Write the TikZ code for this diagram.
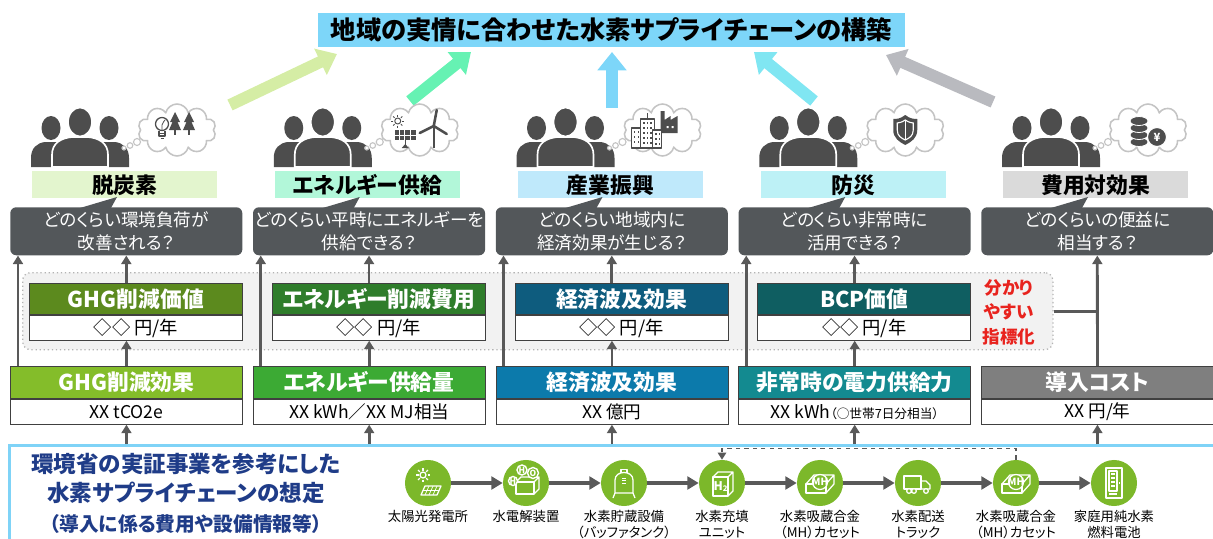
\documentclass[tikz,border=0pt]{standalone}
\usepackage{fontspec}
\setmainfont{Noto Sans CJK JP}[RawFeature=+palt]
\usetikzlibrary{arrows.meta,calc,positioning,shapes.symbols}

\definecolor{titleblue}{HTML}{7DD6F9}
\definecolor{arrA}{HTML}{D5EDA5}
\definecolor{arrB}{HTML}{66F2B3}
\definecolor{arrC}{HTML}{7DD6F9}
\definecolor{arrD}{HTML}{80E6F2}
\definecolor{arrE}{HTML}{B9BABF}
\definecolor{bandA}{HTML}{E3F5CE}
\definecolor{bandB}{HTML}{B2F7D9}
\definecolor{bandC}{HTML}{BFE9FB}
\definecolor{bandD}{HTML}{BDF1F6}
\definecolor{bandE}{HTML}{DADADA}
\definecolor{folkgray}{HTML}{4D4D4D}
\definecolor{puffgray}{HTML}{C4C4C4}
\definecolor{qgray}{HTML}{53575A}
\definecolor{valA}{HTML}{5C8A1E}
\definecolor{valB}{HTML}{2F7D2B}
\definecolor{valC}{HTML}{0E5C7E}
\definecolor{valD}{HTML}{0F5E61}
\definecolor{effA}{HTML}{84BD2A}
\definecolor{effB}{HTML}{3CAA34}
\definecolor{effC}{HTML}{0C7AAB}
\definecolor{effD}{HTML}{138A90}
\definecolor{effE}{HTML}{7F7F7F}
\definecolor{boxline}{HTML}{404040}
\definecolor{linkgray}{HTML}{595959}
\definecolor{dotfill}{HTML}{F2F2F2}
\definecolor{dotgray}{HTML}{B3B3B3}
\definecolor{alertred}{HTML}{E8231E}
\definecolor{planblue}{HTML}{1F3C88}
\definecolor{frameblue}{HTML}{7FD3F7}
\definecolor{stationgreen}{HTML}{7CB82A}

\tikzset{
  folk/.style={fill=folkgray},
  ink/.style={draw=folkgray, line width=0.9pt, line join=round},
  chalk/.style={draw=white, line width=0.9pt, line join=round},
  puff/.style={draw=puffgray, line width=0.8pt, fill=white},
  % three heads and a thought cloud
  crowd/.pic={
    \fill[folk] (-29,8) ellipse (9.5 and 12);
    \fill[folk] (29,8) ellipse (9.5 and 12);
    \fill[folk] (-49,47) -- (-49,38) .. controls (-49,28) and (-43,23) .. (-35,22) -- (-23,22) .. controls (-15,23) and (-11,28) .. (-11,38) -- (-11,47) -- cycle;
    \fill[folk] (49,47) -- (49,38) .. controls (49,28) and (43,23) .. (35,22) -- (23,22) .. controls (15,23) and (11,28) .. (11,38) -- (11,47) -- cycle;
    \filldraw[folk, draw=white, line width=1.2pt] (-28,47) -- (-28,35) .. controls (-28,23) and (-19,18) .. (-8,17) -- (8,17) .. controls (19,18) and (28,23) .. (28,35) -- (28,47) -- cycle;
    \filldraw[folk, draw=white, line width=1.2pt] (0,2) ellipse (12 and 14.5);
    \draw[puff] (44,28) circle (2) (50,25.5) circle (2.8) (57,22) circle (3.5);
    \node[cloud, cloud puffs=10, aspect=1.55, draw=puffgray, line width=1.1pt, fill=white,
      minimum width=1.95cm, minimum height=1.3cm, inner sep=0pt] (-cloud) at (97,10) {};
  },
  bulbtrees/.pic={
    \draw[ink] (-15,-6) circle (6.5);
    \draw[ink] (-18,1) -- (-18,6) -- (-12,6) -- (-12,1);
    \draw[ink] (-18,3.5) -- (-12,3.5);
    \draw[ink] (-16.5,8.5) -- (-13.5,8.5);
    \draw[ink, line width=0.6pt] (-15,0) -- (-15,-5) .. controls (-13,-9) .. (-12,-10);
    \fill[folkgray] (-2,-18) -- (-7,-8) -- (-4.5,-8) -- (-8,0) -- (4,0) -- (0.5,-8) -- (3,-8) -- cycle;
    \fill[folkgray] (-3,0) rectangle (-1,5);
    \fill[folkgray] (12,-18) -- (7,-8) -- (9.5,-8) -- (6,0) -- (18,0) -- (14.5,-8) -- (17,-8) -- cycle;
    \fill[folkgray] (11,0) rectangle (13,5);
  },
  solarwind/.pic={
    \draw[ink, line width=0.7pt] (-22,-9) circle (3);
    \foreach \a in {0,45,...,315}
      \draw[ink, line width=0.7pt] (-22,-9) ++(\a:4.5) -- ++(\a:2);
    \fill[folkgray] (-25,0) rectangle (-4,10);
    \draw[white, line width=0.4pt] (-20,0) -- (-20,10) (-15,0) -- (-15,10) (-9.5,0) -- (-9.5,10) (-25,5) -- (-4,5);
    \draw[ink] (-14.5,10) -- (-14.5,15);
    \fill[folkgray] (-18,18) -- (-14.5,14) -- (-11,18) -- cycle;
    \draw[ink, line width=1.2pt] (14,-4) -- (14,18);
    \draw[folkgray, line width=1.8pt, line cap=round] (14,-4) -- (17,-20) (14,-4) -- (0,3) (14,-4) -- (27,4);
  },
  cityfactory/.pic={
    \fill[folkgray] (-2,3) -- (-2,-19) -- (2,-19) -- (2,-10) -- (8,-14) -- (8,-10) -- (15,-14) -- (15,3) -- cycle;
    \fill[white] (4,-4) rectangle ++(2.2,2.2) (9,-4) rectangle ++(2.2,2.2);
    \draw[ink, fill=white] (-31,-2) rectangle (-20,18);
    \draw[ink, fill=white] (-22,-11) rectangle (-8,18);
    \draw[ink, fill=white] (-10,0) rectangle (-1,18);
    \draw[ink] (-15,-11) -- (-15,-17);
    \foreach \u in {-19.5,-16,-12.5}
      \foreach \v in {-8,-3,2,7,12}
        \fill[folkgray] (\u,\v) rectangle ++(1.8,2.4);
    \foreach \u in {-29,-25}
      \foreach \v in {1,6,11}
        \fill[folkgray] (\u,\v) rectangle ++(1.8,2.4);
    \foreach \u in {-7.5,-4}
      \foreach \v in {3,8,13}
        \fill[folkgray] (\u,\v) rectangle ++(1.8,2.4);
  },
  shieldmark/.pic={
    \fill[folkgray] (0,-15) .. controls (5,-11) and (9,-11) .. (12,-11) -- (12,0) .. controls (12,8) and (6,12) .. (0,15) .. controls (-6,12) and (-12,8) .. (-12,0) -- (-12,-11) .. controls (-9,-11) and (-5,-11) .. cycle;
    \draw[white, line width=0.8pt] (0,-10) .. controls (3,-8) and (6,-7) .. (8,-7) -- (8,0) .. controls (8,6) and (4,8) .. (0,10) .. controls (-4,8) and (-8,6) .. (-8,0) -- (-8,-7) .. controls (-6,-7) and (-3,-8) .. cycle;
    \draw[white, line width=0.8pt] (0,-10) -- (0,10);
  },
  coinyen/.pic={
    \foreach \v in {12,5,-2,-9}
      \filldraw[fill=folkgray, draw=white, line width=0.6pt] (-9,\v) ellipse (9 and 4.5);
    \filldraw[fill=folkgray, draw=white, line width=0.8pt] (9,7) circle (9.5);
    \node[text=white, font=\fontsize{8}{8}\selectfont\bfseries, inner sep=0pt] (-yen) at (9,7) {¥};
  },
  % icons on the supply chain
  sunpanel/.pic={
    \draw[chalk] (-5,-8) circle (3);
    \foreach \a in {0,45,...,315}
      \draw[chalk] (-5,-8) ++(\a:4.5) -- ++(\a:2.5);
    \draw[chalk] (-3,3) -- (13,3) -- (9,12) -- (-7,12) -- cycle;
    \draw[chalk, line width=0.5pt] (1,3) -- (-3,12) (5,3) -- (1,12) (9,3) -- (5,12) (-5,7.5) -- (11,7.5);
  },
  electro/.pic={
    \draw[chalk] (-10,-1) rectangle (8,11);
    \draw[chalk] (-10,-1) -- (-5,-6) -- (13,-6) -- (8,-1) (13,-6) -- (13,6) -- (8,11);
    \foreach \p/\q/\r/\t [count=\i] in {-4/-13/5/H, 7/-10/5.5/O, -13/-2/4.5/H} {
      \filldraw[fill=stationgreen, draw=white, line width=1pt] (\p,\q) circle (\r);
      \node[text=white, font=\fontsize{6}{6}\selectfont\bfseries, inner sep=0pt] (-atom\i) at (\p,\q) {\t};
    }
  },
  tank/.pic={
    \draw[chalk] (-9,10) -- (-9,-3) .. controls (-9,-13) and (9,-13) .. (9,-3) -- (9,10) -- cycle;
    \draw[chalk] (-9,10) -- (-11,15) (9,10) -- (11,15);
    \draw[chalk] (-3,-10.5) -- (-3,-13.5) -- (3,-13.5) -- (3,-10.5);
    \draw[chalk, line width=0.6pt] (-2,-5) -- (2,-5) (-2,-2.5) -- (2,-2.5) (-2,0) -- (2,0);
  },
  hbox/.pic={
    \draw[chalk] (-9,-6) rectangle (6,13);
    \draw[chalk] (-9,-6) -- (-4,-11) -- (11,-11) -- (6,-6) (11,-11) -- (11,8) -- (6,13);
    \node[text=white, font=\fontsize{8.5}{9}\selectfont\bfseries, inner sep=0pt] (-h2) at (-1.5,3.5) {H{\fontsize{5.5}{5}\selectfont\raisebox{-0.4ex}{2}}};
  },
  mhslab/.pic={
    \draw[chalk] (-14,1) rectangle (6,10);
    \draw[chalk] (-14,1) -- (-6,-8) -- (14,-8) -- (6,1) (14,-8) -- (14,1) -- (6,10);
    \filldraw[fill=stationgreen, draw=white, line width=0.9pt] (0,-1) circle (7.5);
    \node[text=white, font=\fontsize{7}{7}\selectfont\bfseries, inner sep=0pt] (-tag) at (0,-1) {MH};
  },
  truck/.pic={
    \draw[chalk] (-14,-7) rectangle (3,6);
    \draw[chalk] (3,-2) -- (8,-2) -- (12,2) -- (12,6) -- (3,6);
    \filldraw[fill=stationgreen, draw=white, line width=0.9pt] (-9,8) circle (2.3) (-4,8) circle (2.3) (8,8) circle (2.3);
  },
  fuelcell/.pic={
    \draw[chalk] (-8,-15) rectangle (8,15);
    \draw[chalk] (-5,-12) rectangle (3,8);
    \draw[chalk] (-3,-9) -- (1,-9) (-3,-5) -- (1,-5) (-3,-1) -- (1,-1) (-3,3) -- (1,3);
    \draw[chalk] (-5,11) -- (3,11);
    \draw[chalk] (5.5,-1) -- (5.5,1);
  }
}

\begin{document}
\begin{tikzpicture}[
    x=0.025cm, y=-0.025cm,
    bigarrow/.style={line width=8.5pt, -{Triangle[width=20pt,length=13pt]}},
    up/.style={draw=linkgray, line width=2pt, -{Triangle[width=7pt,length=6pt]}},
    flow/.style={draw=linkgray, line width=2.2pt, -{Triangle[width=9pt,length=8pt]}},
    band/.style={minimum width=4.625cm, minimum height=0.675cm, inner sep=0pt, anchor=north west,
      font=\fontsize{15.5}{18}\selectfont\bfseries},
    qbox/.style={fill=qgray, rounded corners=0.15cm, minimum width=5.8cm, minimum height=1.2cm,
      inner sep=0pt, anchor=north west, text=white, align=center, font=\fontsize{12.5}{16}\selectfont},
    vhead/.style={draw=boxline, line width=0.6pt, minimum width=5.325cm, minimum height=0.775cm,
      inner sep=0pt, anchor=north west, text=white, font=\fontsize{15.5}{18}\selectfont\bfseries},
    vrow/.style={draw=boxline, fill=white, line width=0.6pt, minimum width=5.325cm, minimum height=0.625cm,
      inner sep=0pt, font=\fontsize{13}{15}\selectfont},
    ehead/.style={draw=boxline, line width=0.6pt, minimum width=5.8cm, minimum height=0.8cm,
      inner sep=0pt, anchor=north west, text=white, font=\fontsize{15.5}{18}\selectfont\bfseries},
    erow/.style={draw=boxline, fill=white, line width=0.6pt, minimum width=5.8cm, minimum height=0.625cm,
      inner sep=0pt, font=\fontsize{12.5}{15}\selectfont},
    station/.style={circle, fill=stationgreen, minimum size=1.15cm, inner sep=0pt},
    stationlbl/.style={inner sep=0pt, align=center, anchor=north, font=\fontsize{9.5}{11.2}\selectfont}
  ]
  \useasboundingbox (0,0) rectangle (1213,539);

  \node[fill=titleblue, minimum width=14.675cm, minimum height=0.85cm, inner sep=0pt,
    font=\fontsize{18}{20}\selectfont\bfseries] (title) at (611.5,30) {地域の実情に合わせた水素サプライチェーンの構築};

  % arrows up to the title
  \coordinate (fromA) at (230,105);  \coordinate (toA) at (337,54);
  \coordinate (fromB) at (410,101);  \coordinate (toB) at (471,52);
  \coordinate (fromC) at (612,108);  \coordinate (toC) at (612,52);
  \coordinate (fromD) at (814,101);  \coordinate (toD) at (754,52);
  \coordinate (fromE) at (993,102);  \coordinate (toE) at (886,55);
  \draw[bigarrow, arrA] (fromA) -- (toA);
  \draw[bigarrow, arrB] (fromB) -- (toB);
  \draw[bigarrow, arrC] (fromC) -- (toC);
  \draw[bigarrow, arrD] (fromD) -- (toD);
  \draw[bigarrow, arrE] (fromE) -- (toE);

  \pic (p1) at (80,120) {crowd};
  \pic (p2) at (322.75,120) {crowd};
  \pic (p3) at (565.5,120) {crowd};
  \pic (p4) at (808.25,120) {crowd};
  \pic (p5) at (1051,120) {crowd};
  \pic at (p1-cloud) {bulbtrees};
  \pic at (p2-cloud) {solarwind};
  \pic at (p3-cloud) {cityfactory};
  \pic at (p4-cloud) {shieldmark};
  \pic at (p5-cloud) {coinyen};

  \node[band, fill=bandA] (t1) at (32,171) {脱炭素};
  \node[band, fill=bandB] (t2) at (274.75,171) {エネルギー供給};
  \node[band, fill=bandC] (t3) at (517.5,171) {産業振興};
  \node[band, fill=bandD] (t4) at (760.25,171) {防災};
  \node[band, fill=bandE] (t5) at (1003,171) {費用対効果};

  \node[qbox] (q1) at (10,207) {どのくらい環境負荷が\\改善される？};
  \node[qbox] (q2) at (252.75,207) {どのくらい平時にエネルギーを\\供給できる？};
  \node[qbox] (q3) at (495.5,207) {どのくらい地域内に\\経済効果が生じる？};
  \node[qbox] (q4) at (738.25,207) {どのくらい非常時に\\活用できる？};
  \node[qbox] (q5) at (981,207) {どのくらいの便益に\\相当する？};
  \foreach \q in {q1,q2,q3,q4,q5}
    \fill[qgray] ($(\q.north west)+(70,1)$) -- ($(\q.north west)+(107,-10)$) -- ($(\q.north west)+(101,1)$) -- cycle;

  \node[draw=dotgray, dotted, line width=0.9pt, fill=dotfill, rounded corners=0.2cm, minimum width=25.75cm,
    minimum height=1.925cm, inner sep=0pt, anchor=north west] (easy) at (22,272) {};
  \node[text=alertred, align=center, font=\fontsize{12.5}{17.4}\selectfont\bfseries] (plain) at (1009,312) {分かり\\やすい\\指標化};

  \node[vhead, fill=valA] (v1) at (29,283) {GHG削減価値};
  \node[vhead, fill=valB] (v2) at (271.75,283) {エネルギー削減費用};
  \node[vhead, fill=valC] (v3) at (514.5,283) {経済波及効果};
  \node[vhead, fill=valD] (v4) at (757.25,283) {BCP価値};
  \node[vrow, below=0pt of v1] (v1r) {◇◇ 円/年};
  \node[vrow, below=0pt of v2] (v2r) {◇◇ 円/年};
  \node[vrow, below=0pt of v3] (v3r) {◇◇ 円/年};
  \node[vrow, below=0pt of v4] (v4r) {◇◇ 円/年};

  \node[ehead, fill=effA] (e1) at (10,366) {GHG削減効果};
  \node[ehead, fill=effB] (e2) at (252.75,366) {エネルギー供給量};
  \node[ehead, fill=effC] (e3) at (495.5,366) {経済波及効果};
  \node[ehead, fill=effD] (e4) at (738.25,366) {非常時の電力供給力};
  \node[ehead, fill=effE] (e5) at (981,366) {導入コスト};
  \node[erow, below=0pt of e1] (e1r) {XX tCO2e};
  \node[erow, below=0pt of e2] (e2r) {XX kWh／XX MJ相当};
  \node[erow, below=0pt of e3] (e3r) {XX 億円};
  \node[erow, below=0pt of e4] (e4r) {XX kWh{\fontsize{9}{10}\selectfont（○世帯7日分相当）}};
  \node[erow, below=0pt of e5] (e5r) {XX 円/年};

  \node[draw=frameblue, line width=1.8pt, minimum width=30.425cm, minimum height=2.9cm, inner sep=0pt,
    anchor=north west] (frame) at (8,444) {};

  \foreach \c in {1,2,3,4} {
    \draw[up] ($(e\c.north west)+(8,0)$) -- ($(q\c.south west)+(8,0)$);
    \draw[up] (v\c.north -| q\c.south) -- (q\c.south);
    \draw[up] (e\c.north) -- (e\c.north |- v\c r.south);
  }
  \draw[up] (e5.north) -- (q5.south);
  \draw[draw=linkgray, line width=2pt] (easy.east) -- (easy.east -| e5.north);
  \foreach \c in {1,...,5}
    \draw[up] (e\c r.south |- frame.north) -- (e\c r.south);

  \node[text=planblue, align=center, font=\fontsize{16}{21}\selectfont\bfseries] (plan) at (186,493)
    {環境省の実証事業を参考にした\\水素サプライチェーンの想定\\{\fontsize{14}{19}\selectfont（導入に係る費用や設備情報等）}};

  % supply chain
  \node[station] (s1) at (428,483) {};
  \node[station] (s2) at (526,483) {};
  \node[station] (s3) at (624,483) {};
  \node[station] (s4) at (722,483) {};
  \node[station] (s5) at (820,483) {};
  \node[station] (s6) at (918,483) {};
  \node[station] (s7) at (1016,483) {};
  \node[station] (s8) at (1114,483) {};
  \pic at (s1) {sunpanel};
  \pic (k2) at (s2) {electro};
  \pic at (s3) {tank};
  \pic (k4) at (s4) {hbox};
  \pic (k5) at (s5) {mhslab};
  \pic at (s6) {truck};
  \pic (k7) at (s7) {mhslab};
  \pic at (s8) {fuelcell};
  \foreach \a/\b in {s1/s2,s2/s3,s3/s4,s4/s5,s5/s6,s6/s7,s7/s8}
    \draw[flow] (\a) -- (\b);
  \draw[draw=linkgray, line width=1pt, dashed, -{Triangle[width=6pt,length=5pt]}] (s7.north) -- ++(0,-11) -| (s4.north);

  \node[stationlbl, below=0.1cm of s1] (l1) {太陽光発電所};
  \node[stationlbl, below=0.1cm of s2] (l2) {水電解装置};
  \node[stationlbl, below=0.1cm of s3] (l3) {水素貯蔵設備\\（バッファタンク）};
  \node[stationlbl, below=0.1cm of s4] (l4) {水素充填\\ユニット};
  \node[stationlbl, below=0.1cm of s5] (l5) {水素吸蔵合金\\（MH）カセット};
  \node[stationlbl, below=0.1cm of s6] (l6) {水素配送\\トラック};
  \node[stationlbl, below=0.1cm of s7] (l7) {水素吸蔵合金\\（MH）カセット};
  \node[stationlbl, below=0.1cm of s8] (l8) {家庭用純水素\\燃料電池};
\end{tikzpicture}
\end{document}
